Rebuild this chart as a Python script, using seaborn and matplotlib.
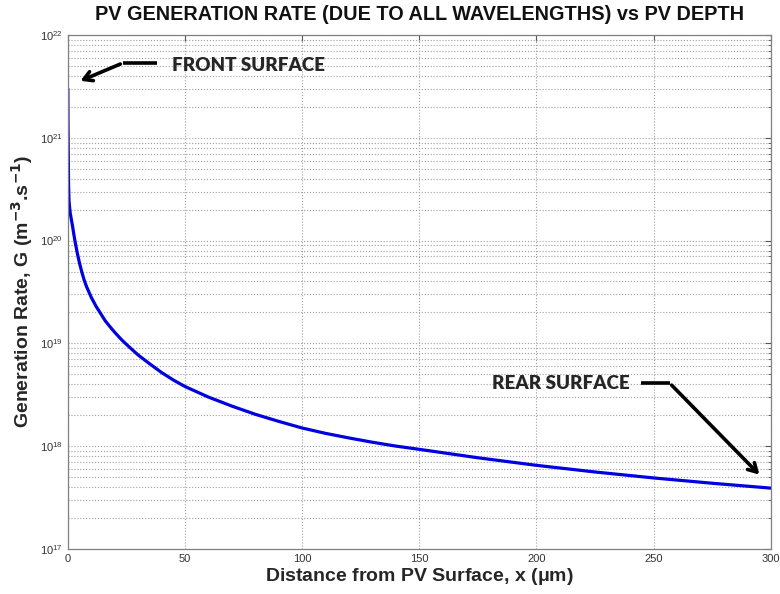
import numpy as np
import pandas as pd
import matplotlib
matplotlib.use('Agg')
import matplotlib.pyplot as plt
import seaborn as sns

# values
depth_um = [0, 0.05, 0.15, 0.3, 0.5, 1, 1.5, 2, 2.5, 3, 4, 5, 6, 7, 8, 10, 12, 14, 16, 18,
            20, 23, 26, 30, 35, 40, 45, 50, 60, 70, 80, 90, 100, 110, 120, 130, 140, 150,
            175, 200, 225, 250, 275, 300]
gen_rate = [3.0e21, 1.5e21, 8.0e20, 3.5e20, 2.4e20, 1.85e20, 1.6e20, 1.38e20, 1.17e20, 1.0e20,
            7.6e19, 6.0e19, 4.9e19, 4.1e19, 3.55e19, 2.8e19, 2.3e19, 1.95e19, 1.65e19, 1.45e19,
            1.28e19, 1.08e19, 9.3e18, 7.7e18, 6.3e18, 5.2e18, 4.4e18, 3.8e18, 3.0e18, 2.45e18,
            2.04e18, 1.74e18, 1.5e18, 1.33e18, 1.2e18, 1.09e18, 1.0e18, 9.3e17,
            7.7e17, 6.5e17, 5.6e17, 4.9e17, 4.35e17, 3.9e17]

x_ticks = [0, 50, 100, 150, 200, 250, 300]
y_limits = [1e17, 1e22]


def main():
    df = pd.DataFrame({'x': depth_um, 'G': gen_rate})

    sns.set_style('white')
    plt.rcParams['font.family'] = ['Liberation Sans', 'DejaVu Sans']

    fig = plt.figure(figsize=(7.8, 5.94), dpi=100)
    ax = fig.add_axes([0.087, 0.076, 0.901, 0.865])

    sns.lineplot(data=df, x='x', y='G', ax=ax, color='#0000e0', linewidth=2.3)
    ax.set_yscale('log')
    ax.set_xlim(0, 300)
    ax.set_ylim(*y_limits)
    ax.set_xticks(x_ticks)

    # matlab-ish grid and ticks
    ax.grid(True, which='major', axis='both', linestyle=':', color='#a0a0a0', linewidth=0.8)
    ax.grid(True, which='minor', axis='y', linestyle=':', color='#a0a0a0', linewidth=0.8)
    ax.tick_params(which='both', direction='in', top=True, right=True, colors='#555555',
                   labelcolor='#333333', labelsize=8)
    ax.tick_params(which='major', length=4)
    ax.tick_params(which='minor', length=2)
    for s in ax.spines.values():
        s.set_color('#808080')
        s.set_linewidth(0.9)

    ax.set_xlabel('Distance from PV Surface, x ($\\mathregular{\\mu}$m)', fontsize=14,
                  fontweight='bold', labelpad=2)
    ax.set_ylabel('Generation Rate, G (m$^{\\mathregular{\\mathbf{-3}}}$.s$^{\\mathregular{\\mathbf{-1}}}$)',
                  fontsize=14, fontweight='bold', labelpad=4)
    ax.set_title('PV GENERATION RATE (DUE TO ALL WAVELENGTHS) vs PV DEPTH', fontsize=14.3,
                 fontweight='bold', pad=11, color='#111111')

    arrow = dict(arrowstyle='->,head_length=0.6,head_width=0.35', color='black', lw=2.6)
    # front surface callout
    ax.plot([38, 23.5], [5.35e21, 5.35e21], color='black', lw=2.6, solid_capstyle='butt')
    ax.annotate('', xy=(4.3, 3.5e21), xytext=(23.5, 5.35e21), arrowprops=arrow)
    ax.text(44.5, 5.1e21, 'FRONT SURFACE', fontsize=13.5, fontweight='heavy', family='Lato',
            va='center', ha='left')
    # rear surface callout
    ax.plot([244.8, 256.9], [4.1e18, 4.1e18], color='black', lw=2.6, solid_capstyle='butt')
    ax.annotate('', xy=(296, 5.05e17), xytext=(256.9, 4.1e18), arrowprops=arrow)
    ax.text(181, 4.1e18, 'REAR SURFACE', fontsize=13.5, fontweight='heavy', family='Lato',
            va='center', ha='left')

    fig.savefig('out.png', dpi=100)


if __name__ == '__main__':
    main()
